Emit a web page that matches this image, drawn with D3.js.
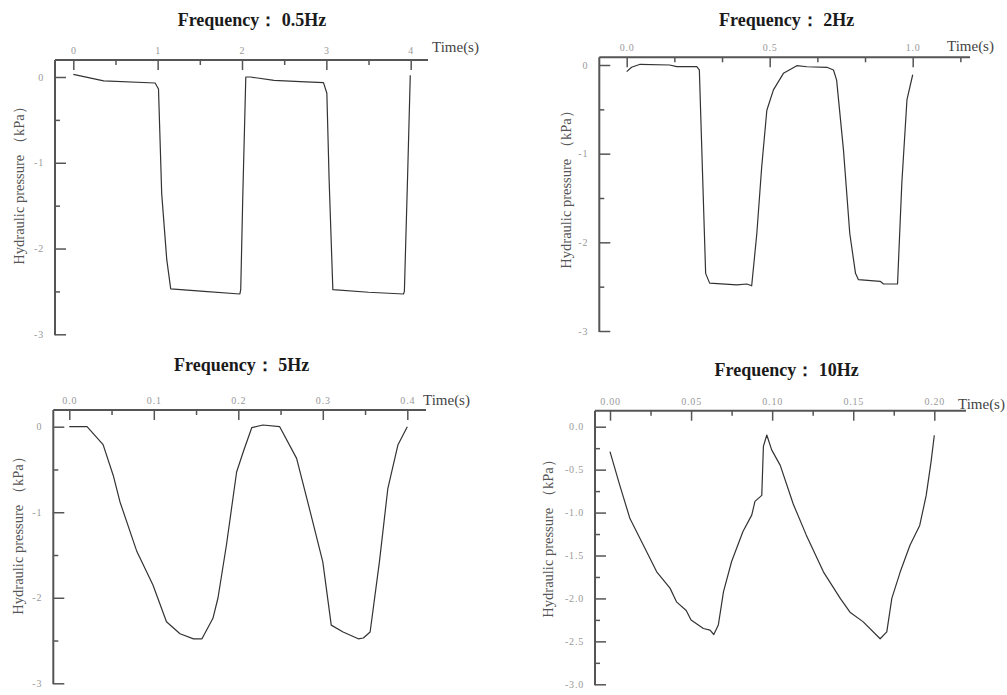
<!DOCTYPE html>
<html>
<head>
<meta charset="utf-8">
<script src="https://cdn.jsdelivr.net/npm/d3@7"></script>
<style>
  html, body { margin: 0; padding: 0; background: #fff; }
  svg { display: block; }
  .title { font-family: "Liberation Serif", "DejaVu Serif", serif; font-weight: bold; font-size: 18px; fill: #1a1a1a; }
  .ylab { font-family: "Liberation Serif", serif; font-size: 14.5px; fill: #555; }
  .tlab { font-family: "Liberation Serif", serif; font-size: 15px; fill: #444; }
  .tick text { font-family: "Liberation Serif", serif; font-size: 10px; fill: #999; letter-spacing: 0.8px; }
</style>
</head>
<body>
<svg id="chart" width="1007" height="695"></svg>
<script>
// ---------------- DATA ----------------
const titles = ["Frequency\uFF1A 0.5Hz", "Frequency\uFF1A 2Hz", "Frequency\uFF1A 5Hz", "Frequency\uFF1A 10Hz"];
const yLabel = "Hydraulic pressure \uFF08kPa\uFF09";
const xLabel = "Time(s)";

// 0.5 Hz
const time05 = [0, 0.36, 0.97, 1.01, 1.048, 1.108, 1.155, 1.55, 1.975, 1.985, 2.01, 2.045, 2.1, 2.38, 2.69, 2.966, 3.006, 3.033, 3.077, 3.5, 3.915, 3.925, 3.962, 3.995];
const press05 = [0.03, -0.045, -0.07, -0.14, -1.36, -2.13, -2.47, -2.5, -2.53, -2.48, -1.36, 0.0, 0.0, -0.04, -0.055, -0.066, -0.19, -1.2, -2.48, -2.51, -2.53, -2.5, -1.2, 0.02];
// 2 Hz
const time2 = [0, 0.017, 0.047, 0.15, 0.175, 0.245, 0.254, 0.276, 0.29, 0.385, 0.42, 0.437, 0.455, 0.472, 0.49, 0.513, 0.548, 0.595, 0.63, 0.7, 0.723, 0.734, 0.758, 0.78, 0.8, 0.81, 0.886, 0.898, 0.947, 0.962, 0.98, 1.0];
const press2 = [-0.075, -0.026, 0.008, 0.0, -0.019, -0.019, -0.056, -2.35, -2.46, -2.48, -2.47, -2.49, -1.9, -1.15, -0.51, -0.28, -0.094, -0.008, -0.02, -0.026, -0.056, -0.17, -0.96, -1.9, -2.35, -2.42, -2.44, -2.47, -2.47, -1.33, -0.39, -0.11];
// 5 Hz
const time5 = [0, 0.021, 0.04, 0.052, 0.06, 0.08, 0.099, 0.115, 0.131, 0.147, 0.157, 0.17, 0.176, 0.186, 0.198, 0.206, 0.216, 0.229, 0.249, 0.269, 0.285, 0.3, 0.31, 0.324, 0.342, 0.348, 0.356, 0.367, 0.377, 0.389, 0.4];
const press5 = [0, 0, -0.21, -0.57, -0.88, -1.46, -1.85, -2.28, -2.42, -2.48, -2.48, -2.24, -2.0, -1.38, -0.53, -0.29, -0.01, 0.02, 0, -0.37, -0.99, -1.58, -2.32, -2.4, -2.48, -2.47, -2.4, -1.58, -0.72, -0.21, 0];
// 10 Hz
const time10 = [0, 0.006, 0.0123, 0.0206, 0.0288, 0.037, 0.041, 0.047, 0.05, 0.0576, 0.0617, 0.064, 0.0668, 0.07, 0.075, 0.082, 0.0874, 0.0894, 0.0936, 0.0946, 0.0967, 0.0997, 0.105, 0.113, 0.121, 0.1316, 0.142, 0.148, 0.156, 0.1666, 0.1707, 0.1738, 0.179, 0.185, 0.191, 0.195, 0.198, 0.2];
const press10 = [-0.29, -0.68, -1.07, -1.38, -1.69, -1.88, -2.04, -2.14, -2.25, -2.35, -2.37, -2.42, -2.31, -1.92, -1.57, -1.22, -1.03, -0.87, -0.8, -0.23, -0.097, -0.27, -0.45, -0.9, -1.26, -1.69, -2.0, -2.16, -2.27, -2.47, -2.39, -2.0, -1.69, -1.38, -1.15, -0.8, -0.41, -0.1];

// tick values / labels
const xMajor05 = [0, 1, 2, 3, 4], xMajorLab05 = ["0", "1", "2", "3", "4"];
const xMajor2 = [0, 0.5, 1.0], xMajorLab2 = ["0.0", "0.5", "1.0"];
const xMajor5 = [0, 0.1, 0.2, 0.3, 0.4], xMajorLab5 = ["0.0", "0.1", "0.2", "0.3", "0.4"];
const xMajor10 = [0, 0.05, 0.1, 0.15, 0.2], xMajorLab10 = ["0.00", "0.05", "0.10", "0.15", "0.20"];
const xMinor05 = [0.5, 1.5, 2.5, 3.5];
const xMinor2 = [1/6, 2/6, 4/6, 5/6, 7/6];
const xMinor5 = [0.05, 0.15, 0.25, 0.35];
const xMinor10 = [0.025, 0.075, 0.125, 0.175];
const yMajorA = [0, -1, -2, -3], yMajorLabA = ["0", "-1", "-2", "-3"];
const yMinorA = [-0.5, -1.5, -2.5];
const yMajor10 = [0, -0.5, -1, -1.5, -2, -2.5, -3], yMajorLab10 = ["0.0", "-0.5", "-1.0", "-1.5", "-2.0", "-2.5", "-3.0"];
const yMinor10 = [-0.25, -0.75, -1.25, -1.75, -2.25, -2.75];

// ---------------- LAYOUT ----------------
const panels = [
  { title: titles[0], t: time05, p: press05, xd: [0, 4], xr: [73.3, 410.7], yr: [77, 334.3], left: 55, top: 60, right: 428,
    xMaj: xMajor05, xLab: xMajorLab05, xMin: xMinor05, yMaj: yMajorA, yLab: yMajorLabA, yMin: yMinorA,
    tx: 252, ty: 26, lx: 19, ly: 182, timeX: 432, timeY: 52 },
  { title: titles[1], t: time2, p: press2, xd: [0, 1], xr: [626.7, 912.7], yr: [65, 331], left: 599.3, top: 57.3, right: 970,
    xMaj: xMajor2, xLab: xMajorLab2, xMin: xMinor2, yMaj: yMajorA, yLab: yMajorLabA, yMin: yMinorA,
    tx: 786.7, ty: 26, lx: 566, ly: 186, timeX: 947, timeY: 51 },
  { title: titles[2], t: time5, p: press5, xd: [0, 0.4], xr: [69.3, 407.3], yr: [426.7, 683.3], left: 53.3, top: 410, right: 426,
    xMaj: xMajor5, xLab: xMajorLab5, xMin: xMinor5, yMaj: yMajorA, yLab: yMajorLabA, yMin: yMinorA,
    tx: 241.7, ty: 371, lx: 18, ly: 532, timeX: 423, timeY: 405 },
  { title: titles[3], t: time10, p: press10, xd: [0, 0.2], xr: [610, 934.3], yr: [426.7, 684.3], left: 595, top: 410.7, right: 966,
    xMaj: xMajor10, xLab: xMajorLab10, xMin: xMinor10, yMaj: yMajor10, yLab: yMajorLab10, yMin: yMinor10,
    tx: 786.7, ty: 376, lx: 548, ly: 535, timeX: 958, timeY: 409 }
];

const svg = d3.select("#chart");
svg.append("rect").attr("width", 1007).attr("height", 695).attr("fill", "#fff");

panels.forEach(cfg => {
  const x = d3.scaleLinear().domain(cfg.xd).range(cfg.xr);
  const y = d3.scaleLinear().domain([0, -3]).range(cfg.yr);
  const g = svg.append("g");

  // data line
  const pts = cfg.t.map((t, i) => [t, cfg.p[i]]);
  g.append("path")
    .datum(pts)
    .attr("fill", "none")
    .attr("stroke", "#333")
    .attr("stroke-width", 1.2)
    .attr("stroke-linejoin", "round")
    .attr("d", d3.line().x(d => x(d[0])).y(d => y(d[1])));

  // x axis (top), major
  const xAxis = d3.axisTop(x).tickValues(cfg.xMaj).tickSize(-10).tickPadding(6)
    .tickFormat((d, i) => cfg.xLab[i]);
  const gx = g.append("g").attr("transform", `translate(0,${cfg.top})`).call(xAxis);
  gx.select(".domain").remove();
  gx.selectAll(".tick line").attr("stroke", "#555").attr("stroke-width", 1.5);

  const gxm = g.append("g").attr("transform", `translate(0,${cfg.top})`)
    .call(d3.axisTop(x).tickValues(cfg.xMin).tickSize(-5).tickFormat(""));
  gxm.select(".domain").remove();
  gxm.selectAll(".tick line").attr("stroke", "#555").attr("stroke-width", 1.5);

  // y axis (left), major
  const yAxis = d3.axisLeft(y).tickValues(cfg.yMaj).tickSize(-11).tickPadding(11)
    .tickFormat((d, i) => cfg.yLab[i]);
  const gy = g.append("g").attr("transform", `translate(${cfg.left},0)`).call(yAxis);
  gy.select(".domain").remove();
  gy.selectAll(".tick line").attr("stroke", "#555").attr("stroke-width", 1.5);

  const gym = g.append("g").attr("transform", `translate(${cfg.left},0)`)
    .call(d3.axisLeft(y).tickValues(cfg.yMin).tickSize(-5).tickFormat(""));
  gym.select(".domain").remove();
  gym.selectAll(".tick line").attr("stroke", "#555").attr("stroke-width", 1.5);

  // axis lines
  g.append("line").attr("x1", cfg.left).attr("x2", cfg.right).attr("y1", cfg.top).attr("y2", cfg.top)
    .attr("stroke", "#555").attr("stroke-width", 2);
  g.append("line").attr("x1", cfg.left).attr("x2", cfg.left).attr("y1", cfg.top).attr("y2", y(-3) + 1)
    .attr("stroke", "#555").attr("stroke-width", 2);

  // texts
  g.append("text").attr("class", "title").attr("x", cfg.tx).attr("y", cfg.ty)
    .attr("text-anchor", "middle").text(cfg.title);
  g.append("text").attr("class", "ylab")
    .attr("transform", `translate(${cfg.lx},${cfg.ly}) rotate(-90)`)
    .attr("text-anchor", "middle").attr("dy", "0.35em").text(yLabel);
  g.append("text").attr("class", "tlab").attr("x", cfg.timeX).attr("y", cfg.timeY).text(xLabel);
});
</script>
</body>
</html>
